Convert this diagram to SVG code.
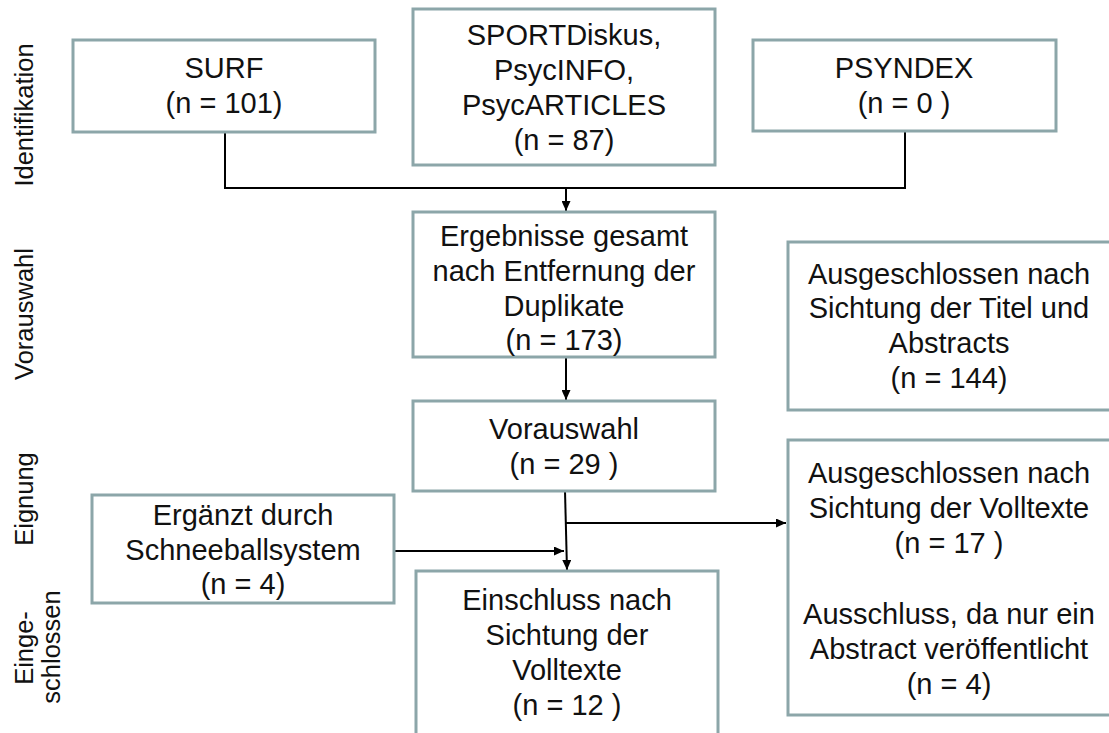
<svg xmlns="http://www.w3.org/2000/svg" width="1109" height="733" viewBox="0 0 1109 733">
<style>
.box{fill:#fff;stroke:#8CA6A9;stroke-width:3}
.t{font-family:"Liberation Sans",Arial,sans-serif;font-size:29px;fill:#111;text-anchor:middle}
.s{font-family:"Liberation Sans",Arial,sans-serif;font-size:25.5px;fill:#111;text-anchor:middle}
.c{fill:none;stroke:#000;stroke-width:2}
</style>
<defs>
<marker id="ah" markerUnits="userSpaceOnUse" markerWidth="10" markerHeight="9" refX="10" refY="4.5" orient="auto">
<path d="M0,0 L10,4.5 L0,9 z" fill="#000"/>
</marker>
</defs>
<rect width="1109" height="733" fill="#fff"/>
<g id="labels">
<text class="s" transform="translate(33,115) rotate(-90)">Identifikation</text>
<text class="s" transform="translate(33,314) rotate(-90)">Vorauswahl</text>
<text class="s" transform="translate(33,499) rotate(-90)">Eignung</text>
<text class="s" transform="translate(33,648) rotate(-90)">Einge-</text>
<text class="s" transform="translate(60,647) rotate(-90)">schlossen</text>
</g>
<g id="connectors">
<path class="c" d="M225,132 V188 H905 V131"/>
<path class="c" d="M566,188 V211" marker-end="url(#ah)"/>
<path class="c" d="M566,357 V400" marker-end="url(#ah)"/>
<path class="c" d="M565,491 L567,570" marker-end="url(#ah)"/>
<path class="c" d="M566,523 H786" marker-end="url(#ah)"/>
<path class="c" d="M394,551 H564" marker-end="url(#ah)"/>
</g>
<g id="surf">
<rect class="box" x="73" y="40" width="302" height="92"/>
<text class="t" x="224" y="78">SURF</text>
<text class="t" x="224" y="113">(n = 101)</text>
</g>
<g id="sport">
<rect class="box" x="413" y="9" width="302" height="156"/>
<text class="t" x="564" y="45">SPORTDiskus,</text>
<text class="t" x="564" y="80">PsycINFO,</text>
<text class="t" x="564" y="115">PsycARTICLES</text>
<text class="t" x="564" y="150">(n = 87)</text>
</g>
<g id="psyndex">
<rect class="box" x="753" y="40" width="303" height="91"/>
<text class="t" x="904" y="78">PSYNDEX</text>
<text class="t" x="904" y="113">(n = 0 )</text>
</g>
<g id="ergebnisse">
<rect class="box" x="413" y="212" width="302" height="145"/>
<text class="t" x="564" y="246">Ergebnisse gesamt</text>
<text class="t" x="564" y="281">nach Entfernung der</text>
<text class="t" x="564" y="316">Duplikate</text>
<text class="t" x="564" y="350">(n = 173)</text>
</g>
<g id="ausgeschlossen1">
<rect class="box" x="788" y="242" width="323" height="168"/>
<text class="t" x="949" y="284">Ausgeschlossen nach</text>
<text class="t" x="949" y="318">Sichtung der Titel und</text>
<text class="t" x="949" y="353">Abstracts</text>
<text class="t" x="949" y="388">(n = 144)</text>
</g>
<g id="vorauswahl">
<rect class="box" x="413" y="401" width="302" height="90"/>
<text class="t" x="564" y="439">Vorauswahl</text>
<text class="t" x="564" y="474">(n = 29 )</text>
</g>
<g id="ausgeschlossen2">
<rect class="box" x="788" y="440" width="323" height="275"/>
<text class="t" x="949" y="483">Ausgeschlossen nach</text>
<text class="t" x="949" y="518">Sichtung der Volltexte</text>
<text class="t" x="949" y="553">(n = 17 )</text>
<text class="t" x="949" y="624">Ausschluss, da nur ein</text>
<text class="t" x="949" y="659">Abstract veröffentlicht</text>
<text class="t" x="949" y="694">(n = 4)</text>
</g>
<g id="schneeball">
<rect class="box" x="92" y="495" width="302" height="108"/>
<text class="t" x="243" y="525">Ergänzt durch</text>
<text class="t" x="243" y="560">Schneeballsystem</text>
<text class="t" x="243" y="594">(n = 4)</text>
</g>
<g id="einschluss">
<rect class="box" x="416" y="571" width="302" height="175"/>
<text class="t" x="567" y="610">Einschluss nach</text>
<text class="t" x="567" y="645">Sichtung der</text>
<text class="t" x="567" y="680">Volltexte</text>
<text class="t" x="567" y="715">(n = 12 )</text>
</g>
</svg>
